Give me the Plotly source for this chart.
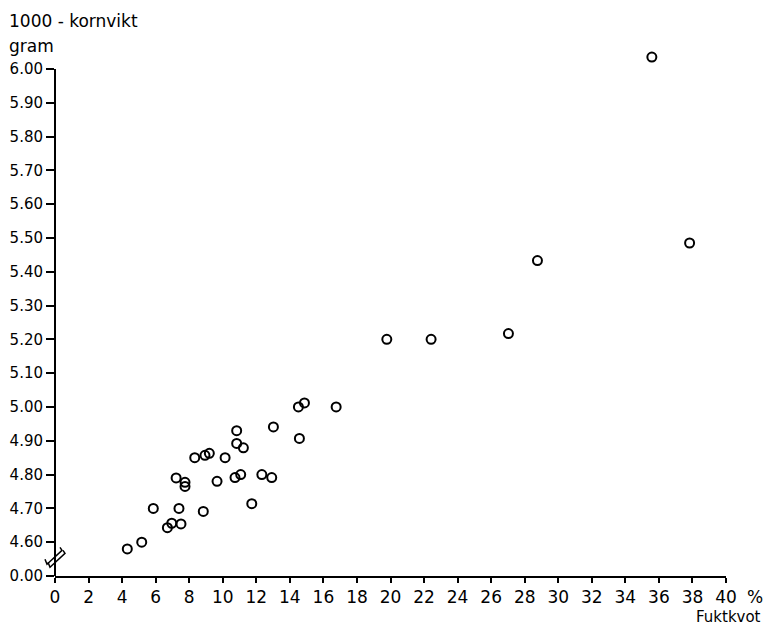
import plotly.graph_objects as go

# Fuktkvot (%) and 1000-kornvikt (gram)
fuktkvot = [4.31, 5.17, 5.86, 6.70, 6.96, 7.51, 7.39, 7.22, 7.75, 7.75,
            8.84, 8.33, 8.94, 9.20, 9.66, 10.14, 10.83, 10.83, 11.23, 10.73,
            11.07, 11.73, 12.33, 12.92, 13.02, 14.57, 14.51, 14.87, 16.76, 19.78,
            22.42, 27.03, 28.76, 35.58, 37.83]
kornvikt = [4.58, 4.60, 4.70, 4.643, 4.656, 4.654, 4.70, 4.79, 4.777, 4.765,
            4.691, 4.85, 4.857, 4.863, 4.78, 4.85, 4.93, 4.892, 4.879, 4.791,
            4.80, 4.714, 4.80, 4.791, 4.941, 4.907, 5.00, 5.012, 5.00, 5.20,
            5.20, 5.217, 5.433, 6.035, 5.485]

x_ticks = list(range(0, 41, 2))
x_labels = [str(v) for v in x_ticks]
# axis broken: position 4.50 carries the label 0.00
y_ticks = [4.5] + [round(4.6 + 0.1 * i, 2) for i in range(15)]
y_labels = ["0.00"] + [f"{v:.2f}" for v in y_ticks[1:]]

font = "DejaVu Sans"

W, H = 766, 628
L, R = 55, 725.7          # pixel x of plot left / right
T, B = 51.6, 575.7        # pixel y of plot top / bottom


def px(p):
    return (p - L) / (R - L)


def py(p):
    return (B - p) / (B - T)


fig = go.Figure()
fig.add_trace(go.Scatter(
    x=fuktkvot, y=kornvikt, mode="markers",
    marker=dict(symbol="circle-open", size=9, color="black",
                line=dict(color="black", width=2)),
    cliponaxis=False, showlegend=False,
))

# y axis line (ends at 6.00)
fig.add_shape(type="line", xref="paper", yref="y", x0=0, x1=0,
              y0=y_ticks[0], y1=y_ticks[-1],
              line=dict(color="black", width=2))

# axis break marks (two hooked parallel strokes, pixel sized)
for ox, oy in ((0, 0), (3, -3)):
    pts = [(-10, -4), (-8, -9), (7, 5), (5, 8)]
    path = "M " + " L ".join(f"{x + ox},{y + oy}" for x, y in pts)
    fig.add_shape(type="path", xref="paper", yref="paper",
                  xsizemode="pixel", ysizemode="pixel",
                  xanchor=0, yanchor=py(555), path=path,
                  line=dict(color="black", width=1.5))

fig.update_layout(
    width=W, height=H,
    margin=dict(l=L, r=W - R, t=T, b=H - B),
    paper_bgcolor="white", plot_bgcolor="white",
    font=dict(family=font, color="black"),
    xaxis=dict(range=[0, 40], tickvals=x_ticks, ticktext=x_labels,
               showline=True, linecolor="black", linewidth=2,
               ticks="outside", ticklen=5, tickwidth=1.5, tickcolor="black",
               showgrid=False, zeroline=False, automargin=False,
               tickfont=dict(size=17, family=font)),
    yaxis=dict(range=[4.5, 6.05], tickvals=y_ticks, ticktext=y_labels,
               showline=False,
               ticks="outside", ticklen=8, tickwidth=1.5, tickcolor="black",
               showgrid=False, zeroline=False, automargin=False,
               tickfont=dict(size=15, family=font)),
    annotations=[
        dict(text="1000 - kornvikt", xref="paper", yref="paper",
             x=px(7), y=py(21), xanchor="left", yanchor="middle",
             showarrow=False, font=dict(size=17, family=font)),
        dict(text="gram", xref="paper", yref="paper",
             x=px(7), y=py(46), xanchor="left", yanchor="middle",
             showarrow=False, font=dict(size=17, family=font)),
        dict(text="%", xref="paper", yref="paper",
             x=px(755), y=py(597), xanchor="center", yanchor="middle",
             showarrow=False, font=dict(size=17, family=font)),
        dict(text="Fuktkvot", xref="paper", yref="paper",
             x=px(763), y=py(617), xanchor="right", yanchor="middle",
             showarrow=False, font=dict(size=15, family=font)),
    ],
)

fig.write_html("out.html",
               config={"displayModeBar": False},
               post_script="document.body.style.margin='0';"
                           "document.body.style.overflow='hidden';")
